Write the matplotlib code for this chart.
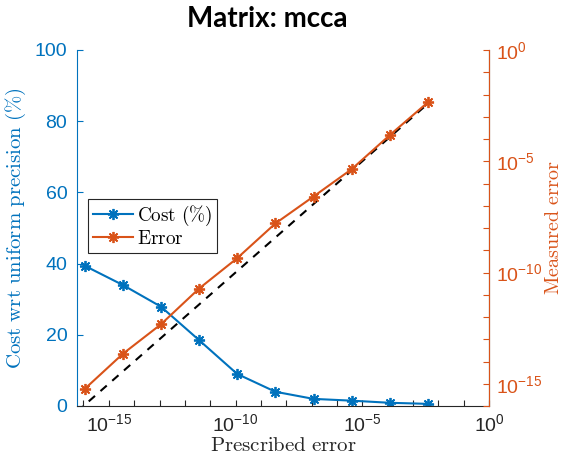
import numpy as np
import matplotlib.pyplot as plt
from matplotlib.ticker import FixedLocator, FuncFormatter, NullLocator

plt.rcParams['font.family'] = ['Liberation Sans', 'DejaVu Sans']

# prescribed error (unit roundoffs 2^-53 ... 2^-8)
prescribed = [1.11e-16, 3.55e-15, 1.14e-13, 3.64e-12, 1.16e-10,
              3.73e-9, 1.19e-7, 3.81e-6, 1.22e-4, 3.91e-3]
# cost relative to uniform precision (%)
cost = [39.4, 34.0, 27.9, 18.5, 9.0, 4.0, 2.0, 1.5, 0.9, 0.6]
# measured error
measured = [5.8e-16, 2.2e-14, 4.7e-13, 1.9e-11, 4.4e-10,
            1.6e-8, 2.6e-7, 4.4e-6, 1.5e-4, 4.5e-3]

blue = '#0072BD'
orange = '#D95319'
grey = '#262626'

fig = plt.figure(figsize=(5.69, 4.63), dpi=100)
ax = fig.add_axes([77/569, 57/463, 412/569, 356/463])
ax2 = ax.twinx()

# left axis: cost
l1, = ax.plot(prescribed, cost, color=blue, lw=1.5, marker=(8, 2, 0),
              ms=8, mew=1.3, label=r'$\mathrm{Cost\ (\%)}$')
# right axis: error and reference line
l2, = ax2.plot(prescribed, measured, color=orange, lw=1.5, marker=(8, 2, 0),
               ms=8, mew=1.3, label=r'$\mathrm{Error}$')
ax2.plot([prescribed[0] / 2, prescribed[-1]], [prescribed[0] / 2, prescribed[-1]],
         color='black', ls=(0, (4, 3.5)), lw=1.5, zorder=1)

ax.set_xscale('log')
ax.set_xlim(prescribed[0] / 2, 1)
ax.set_ylim(0, 100)
ax2.set_yscale('log')
ax2.set_ylim(1e-16, 1)

dec = [10.0 ** k for k in range(-16, 1)]
def dec_fmt(v, pos):
    k = int(round(np.log10(v)))
    return r'$\mathdefault{10^{%d}}$' % k if k % 5 == 0 else ''

ax.xaxis.set_major_locator(FixedLocator(dec))
ax.xaxis.set_major_formatter(FuncFormatter(dec_fmt))
ax.xaxis.set_minor_locator(NullLocator())
ax2.yaxis.set_major_locator(FixedLocator(dec))
ax2.yaxis.set_major_formatter(FuncFormatter(dec_fmt))
ax2.yaxis.set_minor_locator(NullLocator())
ax.set_yticks([0, 20, 40, 60, 80, 100])

ax.tick_params(axis='x', direction='in', length=4, width=0.8, colors=grey,
               labelsize=14, pad=5)
ax.tick_params(axis='y', direction='in', length=4, width=0.8, colors=blue,
               labelsize=14, pad=7)
ax2.tick_params(axis='y', direction='in', length=4, width=0.8, colors=orange,
                labelsize=14, pad=5)

for a in (ax, ax2):
    a.spines['top'].set_visible(False)
ax.spines['left'].set_color(blue)
ax.spines['bottom'].set_color(grey)
ax2.spines['right'].set_color(orange)
ax2.spines['left'].set_visible(False)
ax2.spines['bottom'].set_visible(False)

ax.set_xlabel(r'$\mathrm{Prescribed\ error}$', fontsize=15, color=grey,
              math_fontfamily='cm', labelpad=1)
ax.set_ylabel(r'$\mathrm{Cost\ wrt\ uniform\ precision\ (\%)}$', fontsize=15,
              color=blue, math_fontfamily='cm', labelpad=5)
ax2.set_ylabel(r'$\mathrm{Measured\ error}$', fontsize=14.5, color=orange,
               math_fontfamily='cm', labelpad=1)

fig.text(267.5/569, 1 - 27/463, 'Matrix: mcca', family='Lato', weight='bold',
         fontsize=20, ha='center', va='baseline', color='black')

leg = ax.legend(handles=[l1, l2], loc='lower left', bbox_to_anchor=(0.027, 0.43),
                fontsize=13.8, frameon=True, fancybox=False, edgecolor=grey,
                framealpha=1, handlelength=2.1, borderpad=0.25, labelspacing=0.1,
                handletextpad=0.2, borderaxespad=0)
leg.get_frame().set_linewidth(0.8)
for t in leg.get_texts():
    t.set_math_fontfamily('cm')

fig.savefig('out.png', dpi=100)
